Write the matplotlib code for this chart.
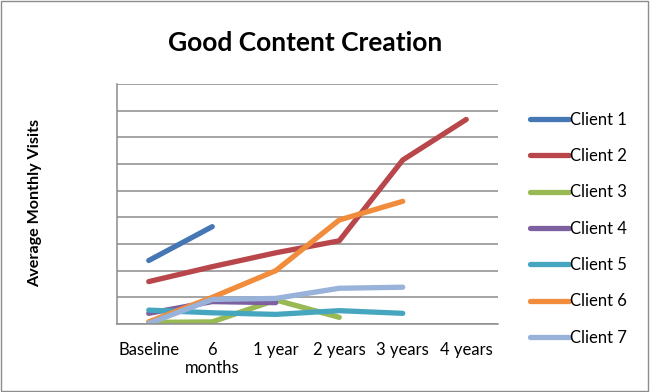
import matplotlib.pyplot as plt
from matplotlib.patches import Rectangle
import numpy as np

plt.rcParams['font.family'] = ['Lato', 'DejaVu Sans']

categories = ['Baseline', '6\nmonths', '1 year', '2 years', '3 years', '4 years']
client1 = [2.38, 3.65]
client2 = [1.59, 2.15, 2.67, 3.12, 6.15, 7.67]
client3 = [0.06, 0.08, 0.9, 0.25]
client4 = [0.4, 0.84, 0.8]
client5 = [0.52, 0.42, 0.36, 0.5, 0.4]
client6 = [0.08, 1.0, 2.0, 3.9, 4.6]
client7 = [0.02, 0.92, 0.96, 1.34, 1.38]
series = [client1, client2, client3, client4, client5, client6, client7]
names = ['Client 1', 'Client 2', 'Client 3', 'Client 4', 'Client 5', 'Client 6', 'Client 7']
colors = ['#4677B5', '#B8464A', '#98B954', '#7D60A0', '#46A6C0', '#F08C3C', '#98B2DA']

fig = plt.figure(figsize=(6.5, 3.92), dpi=100)
ax = fig.add_axes([117/650, 1 - 324/392, (498 - 117)/650, (324 - 84)/392])

for vals, name, c in zip(series, names, colors):
    ax.plot(np.arange(len(vals)), vals, color=c, lw=3.8, solid_capstyle='round',
            solid_joinstyle='round', label=name)

ax.set_xlim(-0.5, 5.5)
ax.set_ylim(0, 9)
ax.set_yticks(range(0, 10))
ax.set_yticklabels([])
ax.grid(axis='y', color='#8c8c8c', lw=1.1)
ax.set_axisbelow(True)
ax.set_xticks(range(len(categories)))
ax.set_xticklabels(categories, fontsize=12, linespacing=1.15)
ax.tick_params(length=0, pad=13)
for s in ['top', 'right']:
    ax.spines[s].set_visible(False)
for s in ['left', 'bottom']:
    ax.spines[s].set_color('#8c8c8c')
    ax.spines[s].set_linewidth(1.1)

ax.set_ylabel('Average Monthly Visits', fontsize=11.6, fontweight='bold')
ax.yaxis.set_label_coords(-0.197, 0.504)
fig.text(0.47, 0.89, 'Good Content Creation', fontsize=19, fontweight='bold',
         ha='center', va='center')

leg = ax.legend(loc='upper left', bbox_to_anchor=(1.045, 0.947), frameon=False,
                fontsize=12, handlelength=2.35, handletextpad=0.05,
                labelspacing=1.22)

fig.patches.append(Rectangle((0.002, 0.003), 0.995, 0.994, transform=fig.transFigure,
                             fill=False, edgecolor='#8c8c8c', lw=1))

fig.savefig('out.png', dpi=100)
